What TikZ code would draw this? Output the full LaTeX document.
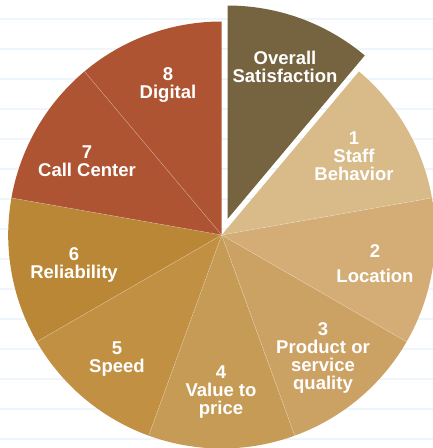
\documentclass[tikz,border=0pt]{standalone}
\usepackage{fontspec}
\setmainfont{Liberation Sans}
\usetikzlibrary{calc}
\definecolor{bgline}{HTML}{EEF5FB}
\definecolor{cOverall}{HTML}{766440}
\definecolor{cOne}{HTML}{D9BA89}
\definecolor{cTwo}{HTML}{D3AD75}
\definecolor{cThree}{HTML}{CBA264}
\definecolor{cFour}{HTML}{C69B55}
\definecolor{cFive}{HTML}{C19043}
\definecolor{cSix}{HTML}{B98735}
\definecolor{cSeven}{HTML}{AE5433}
\definecolor{cEight}{HTML}{AE5433}
\begin{document}
\begin{tikzpicture}[x=1pt,y=1pt,
  lbl/.style={text=white,font=\fontsize{18.5}{18}\selectfont\bfseries,align=center,inner sep=0pt},
  sep/.style={draw=white,draw opacity=0.35,line width=0.5pt},
  bg/.style={draw=bgline,line width=2pt}]
\useasboundingbox (0,0) rectangle (433,448);
% background ruled lines
\foreach \k in {0,...,14}{
  \draw[bg] (0,{448-19-30*\k}) -- (433,{448-19-30*\k});
}
\def\R{213.5}
\coordinate (c) at (221.7,213);
\coordinate (ce) at ($(c)+(70:17)$);
% slices
\newcommand{\slice}[4]{\fill[#1] (#2) -- ++(#3:\R) arc[start angle=#3,end angle=#4,radius=\R] -- cycle;}
\slice{cOne}{c}{10}{50}
\slice{cTwo}{c}{-30}{10}
\slice{cThree}{c}{-70}{-30}
\slice{cFour}{c}{-110}{-70}
\slice{cFive}{c}{-150}{-110}
\slice{cSix}{c}{170}{210}
\slice{cSeven}{c}{130}{170}
\slice{cEight}{c}{90}{130}
\slice{cOverall}{ce}{50}{90}
% separators
\foreach \a in {10,-30,-70,-110,-150,170,130}{
  \draw[sep] (c) -- ++(\a:\R);
}
% labels
\node[lbl] (overall) at (285,381.5) {Overall\\Satisfaction};
\node[lbl] (staff) at (354,292) {1\\Staff\\Behavior};
\node[lbl] (location) at (375,184.5) {2\\[7pt]Location};
\node[lbl] (product) at (323,90) {3\\Product or\\service\\quality};
\node[lbl] (value) at (221,56) {4\\Value to\\price};
\node[lbl] (speed) at (117,88.5) {5\\Speed};
\node[lbl] (reliability) at (74,183) {6\\Reliability};
\node[lbl] (callcenter) at (87,286.5) {7\\Call Center};
\node[lbl] (digital) at (168,363) {8\\Digital};
\end{tikzpicture}
\end{document}
